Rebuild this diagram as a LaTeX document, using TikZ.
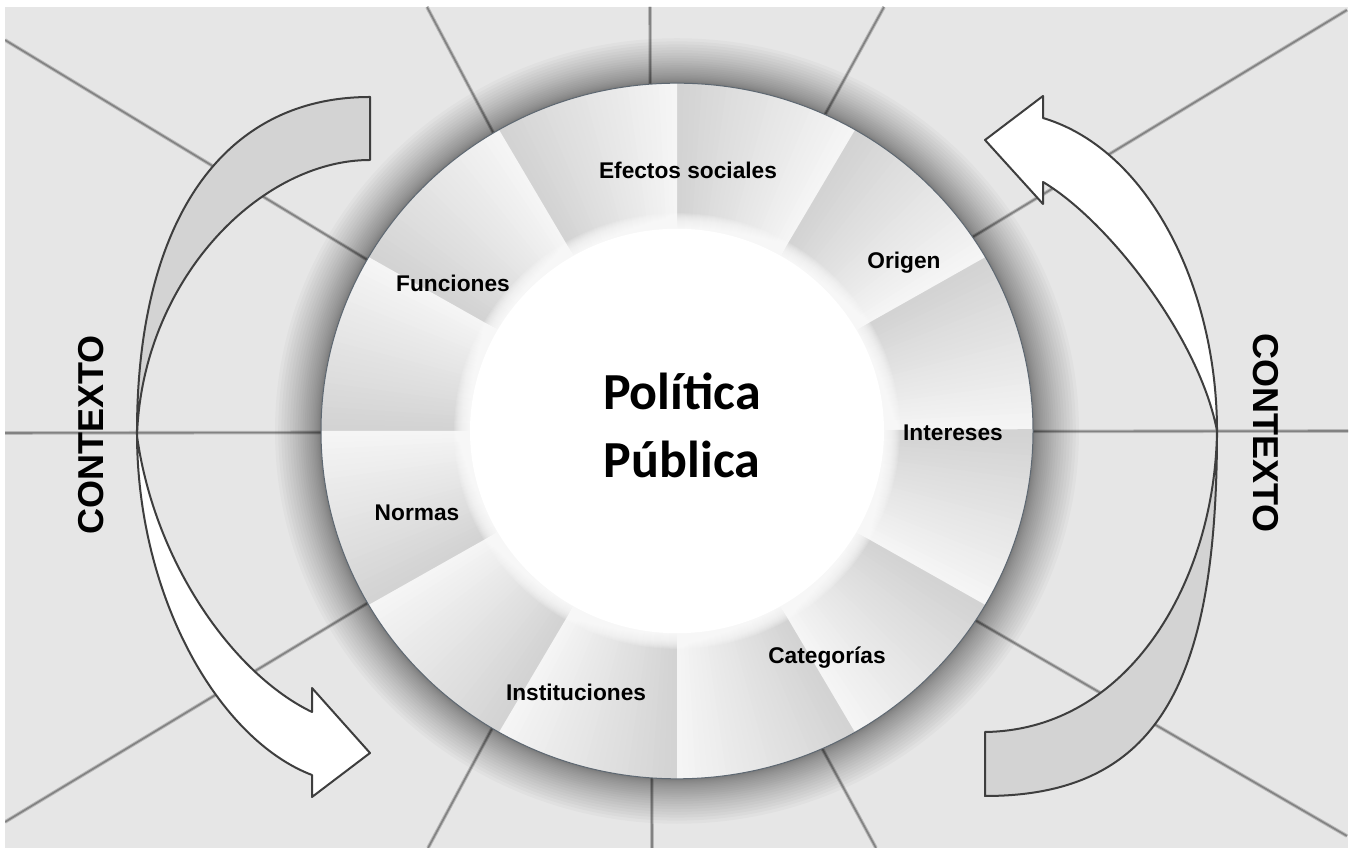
\documentclass[tikz,border=0pt]{standalone}
\usepackage{fontspec}
\setmainfont{Liberation Sans}
\newfontfamily\titlefont{Carlito}
\definecolor{bggray}{HTML}{E6E6E6}
\definecolor{wlight}{HTML}{F5F5F5}
\definecolor{wdark}{HTML}{D3D3D3}
\definecolor{rimcol}{HTML}{5E6872}
\definecolor{backfill}{HTML}{D3D3D3}
\definecolor{outlinecol}{HTML}{3E3E3E}
\definecolor{linecol}{HTML}{828282}
\definecolor{halocol}{HTML}{B8B8B8}
\begin{document}
\begin{tikzpicture}[x=1pt,y=1pt,
  bgline/.style={draw=linecol, line width=1.6},
  bghalo/.style={draw=halocol, line width=3.6},
  lbl/.style={font=\bfseries\fontsize{22.7}{26}\selectfont, text=black, inner sep=0},
  ctx/.style={font=\bfseries\fontsize{36}{40}\selectfont, text=black, inner sep=0},
  ribbon/.style={draw=outlinecol, line width=2, line join=round},
  titletext/.style={font=\titlefont\bfseries\fontsize{52}{60}\selectfont, text=black, inner sep=0, anchor=base},
]
\useasboundingbox (0,0) rectangle (1352,848);
\fill[white] (0,0) rectangle (1352,848);
\fill[bggray] (5,0) rectangle (1348,841);

% radiating guide lines behind the wheel
\coordinate (hub) at (651,416);
\begin{scope}
  \clip (5,0) rectangle (1348,841);
  \foreach \p in {(5,808),(427,841),(650,841),(884,841),(1347,838),(1348,417),
                  (1347,12),(876,0),(652,0),(428,0),(5,26),(5,415)} {
    \draw[bghalo] (hub) -- \p;
    \draw[bgline] (hub) -- \p;
  }
\end{scope}

% the wheel
\begin{scope}[shift={(677,417)}, yscale=0.977]
  % soft drop shadow, denser close to the rim
  \foreach \i in {24,23,...,0} {
    \pgfmathsetmacro{\sr}{356+46*(\i/24)^1.7}
    \fill[black, opacity=0.022] (0,0) circle (\sr);
  }
  % twelve bevelled sectors, each fading from light to dark
  \foreach \k in {0,...,11} {
    \foreach \j in {0,...,29} {
      \pgfmathsetmacro{\sa}{30*\k+\j}
      \pgfmathsetmacro{\ea}{30*\k+\j+1.3}
      \pgfmathtruncatemacro{\pct}{round(100*\j/29)}
      \fill[wdark!\pct!wlight] (0,0) -- (\sa:356) arc[start angle=\sa, end angle=\ea, radius=356] -- cycle;
    }
  }
  % white hub with a soft edge
  \foreach \i in {16,15,...,1}
    \fill[white, opacity=0.12] (0,0) circle ({207+\i});
  \fill[white] (0,0) circle (207);
  \draw[rimcol, line width=1] (0,0) circle (356);
\end{scope}

% sector labels
\node[lbl] (efectos) at (688,678) {Efectos sociales};
\node[lbl] (origen) at (904,585) {Origen};
\node[lbl] (intereses) at (953,415) {Intereses};
\node[lbl] (categorias) at (827,190) {Categorías};
\node[lbl] (instituciones) at (576,156) {Instituciones};
\node[lbl] (normas) at (417,335) {Normas};
\node[lbl] (funciones) at (453,565) {Funciones};

% title in the hub
\node[titletext] (politica) at (682,438) {Política};
\node[titletext] (publica) at (682,370) {Pública};

% side labels
\node[ctx, rotate=90] (ctxL) at (91,413) {CONTEXTO};
\node[ctx, rotate=-90] (ctxR) at (1266,415) {CONTEXTO};

% left curved arrow: back ribbon then front arrow
\coordinate (mL) at (137,412);
\filldraw[ribbon, fill=backfill] (370,751) .. controls (220,751) and (136,623) .. (mL)
  .. controls (142,568) and (260,688) .. (370,688) -- cycle;
\filldraw[ribbon, fill=white] (mL) .. controls (138,248) and (220,108) .. (312,73)
  -- (312,51) -- (370,95) -- (312,160) -- (312,136)
  .. controls (235,173) and (155,283) .. (mL) -- cycle;

% right curved arrow: back ribbon then front arrow
\coordinate (mR) at (1217,417);
\filldraw[ribbon, fill=backfill] (985,52) .. controls (1160,52) and (1217,168) .. (mR)
  .. controls (1215,268) and (1130,118) .. (985,116) -- cycle;
\filldraw[ribbon, fill=white] (mR) .. controls (1217,558) and (1150,698) .. (1043,730)
  -- (1043,752) -- (985,708) -- (1043,644) -- (1043,666)
  .. controls (1110,626) and (1200,508) .. (mR) -- cycle;
\end{tikzpicture}
\end{document}
